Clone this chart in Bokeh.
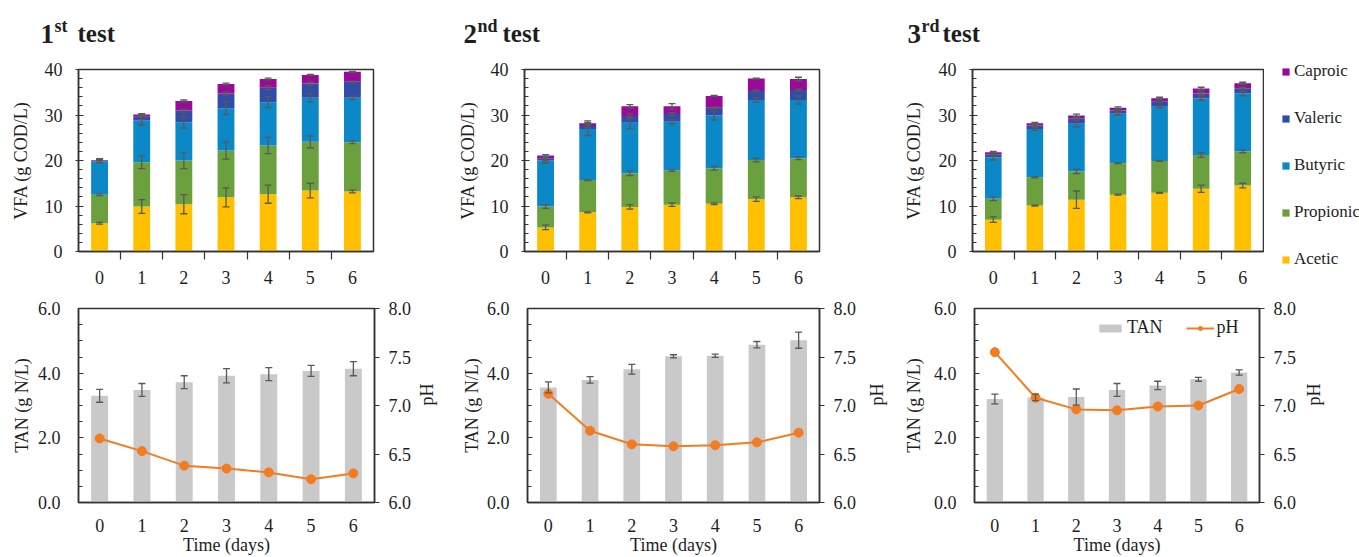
import numpy as np
from bokeh.plotting import figure
from bokeh.models import (ColumnDataSource, Range1d, LinearAxis, FixedTicker, Whisker, TeeHead,
                          Legend, LegendItem, PrintfTickFormatter)
from bokeh.core.properties import value
from bokeh.layouts import row, column
from bokeh.embed import file_html
from bokeh.resources import INLINE

# ---------------- data ----------------
days = [0, 1, 2, 3, 4, 5, 6]
acids = ["Acetic", "Propionic", "Butyric", "Valeric", "Caproic"]

# 1st test, VFA components (g COD/L) and standard deviations
acetic1 = [6.2, 9.9, 10.4, 11.9, 12.6, 13.4, 13.2]
acetic1_err = [0.2, 1.5, 2.1, 2.1, 2.0, 1.6, 0.3]
propionic1 = [6.3, 9.7, 9.6, 10.3, 10.7, 10.7, 10.8]
propionic1_err = [0.2, 1.4, 1.8, 1.9, 1.8, 1.3, 0.3]
butyric1 = [7.3, 9.2, 8.4, 9.3, 9.5, 9.7, 9.8]
butyric1_err = [0.3, 1.0, 1.3, 1.4, 1.2, 0.9, 0.4]
valeric1 = [0.2, 0.8, 2.6, 3.2, 3.2, 3.1, 3.5]
valeric1_err = [0.4, 0.6, 0.3, 0.4, 0.4, 0.3, 0.2]
caproic1 = [0.1, 0.5, 2.1, 2.1, 1.9, 1.9, 2.2]
caproic1_err = [0.1, 0.2, 0.2, 0.2, 0.2, 0.1, 0.1]

# 2nd test
acetic2 = [5.3, 8.6, 9.8, 10.3, 10.5, 11.5, 11.9]
acetic2_err = [0.5, 0.1, 0.5, 0.4, 0.2, 0.5, 0.3]
propionic2 = [4.6, 7.1, 7.4, 7.5, 7.8, 8.6, 8.6]
propionic2_err = [0.4, 0.1, 0.5, 0.2, 0.4, 0.4, 0.3]
butyric2 = [10.1, 11.2, 11.1, 10.7, 11.6, 13.2, 12.8]
butyric2_err = [0.6, 1.4, 1.3, 0.5, 1.0, 0.5, 0.9]
valeric2 = [0.4, 0.7, 1.5, 1.7, 1.7, 2.0, 2.2]
valeric2_err = [0.4, 0.4, 0.4, 0.3, 0.2, 0.2, 0.2]
caproic2 = [0.7, 0.6, 2.1, 1.7, 2.6, 2.7, 2.4]
caproic2_err = [0.2, 0.5, 0.4, 0.6, 0.1, 0.1, 0.4]

# 3rd test
acetic3 = [7.0, 10.1, 11.4, 12.5, 12.9, 13.8, 14.5]
acetic3_err = [0.6, 0.1, 1.9, 0.1, 0.1, 0.8, 0.5]
propionic3 = [4.6, 6.2, 6.2, 6.9, 7.0, 7.4, 7.5]
propionic3_err = [0.4, 0.1, 0.5, 0.1, 0.1, 0.5, 0.3]
butyric3 = [9.1, 10.6, 10.5, 10.9, 11.9, 12.4, 12.7]
butyric3_err = [0.6, 0.3, 0.7, 0.3, 0.2, 0.3, 0.5]
valeric3 = [0.6, 0.8, 1.2, 0.7, 1.2, 1.1, 1.2]
valeric3_err = [0.3, 0.2, 0.2, 0.1, 0.1, 0.3, 0.2]
caproic3 = [0.5, 0.5, 0.6, 0.6, 0.7, 1.1, 1.1]
caproic3_err = [0.2, 0.2, 0.3, 0.2, 0.2, 0.3, 0.2]

# TAN (g N/L) and pH
tan1 = [3.30, 3.48, 3.72, 3.92, 3.97, 4.07, 4.14]
tan1_err = [0.20, 0.20, 0.20, 0.22, 0.20, 0.17, 0.22]
ph1 = [6.66, 6.53, 6.38, 6.35, 6.31, 6.24, 6.30]
tan2 = [3.56, 3.79, 4.12, 4.52, 4.54, 4.88, 5.02]
tan2_err = [0.17, 0.10, 0.15, 0.05, 0.05, 0.10, 0.25]
ph2 = [7.12, 6.74, 6.60, 6.58, 6.59, 6.62, 6.72]
tan3 = [3.20, 3.25, 3.26, 3.48, 3.62, 3.81, 4.02]
tan3_err = [0.15, 0.10, 0.25, 0.20, 0.13, 0.06, 0.08]
ph3 = [7.55, 7.08, 6.96, 6.95, 6.99, 7.00, 7.17]

vfa_ticks = [0, 10, 20, 30, 40]
tan_ticks = [0, 2, 4, 6]
ph_ticks = [6.0, 6.5, 7.0, 7.5, 8.0]

test_nums = ["1", "2", "3"]
test_sups = ["st", "nd", "rd"]

# ---------------- style ----------------
FONT = "Liberation Serif"
TXT = "#1e1e1e"
AX = "#333333"
ERR = "#595959"
COLORS = ["#FFC000", "#6AA03E", "#0A88C8", "#2F4DA8", "#990A99"]
TAN_C = "#C9C9C9"
PH_C = "#F47C20"


def style_axis(ax, size="18px"):
    ax.axis_line_color = AX
    ax.axis_line_width = 1.5
    ax.major_tick_line_color = AX
    ax.minor_tick_line_color = AX
    ax.major_tick_line_width = 1.2
    ax.minor_tick_line_width = 1.2
    ax.major_label_text_font = FONT
    ax.major_label_text_font_size = size
    ax.major_label_text_color = TXT
    ax.axis_label_text_font = FONT
    ax.axis_label_text_font_size = size
    ax.axis_label_text_font_style = "normal"
    ax.axis_label_text_color = TXT


def base_fig(w, h, bl, br, bt, bb, yr):
    p = figure(width=w, height=h, x_range=Range1d(-0.5, 6.5), y_range=Range1d(*yr),
               output_backend="svg", toolbar_location=None, title=None,
               min_border=0, min_border_left=bl, min_border_right=br,
               min_border_top=bt, min_border_bottom=bb)
    p.xgrid.visible = False
    p.ygrid.visible = False
    p.outline_line_color = AX
    p.outline_line_width = 1.5
    p.outline_line_alpha = 1.0
    p.background_fill_color = "white"
    p.border_fill_color = "white"
    return p


def blank_fig(w, h, xr, yr):
    p = figure(width=w, height=h, x_range=Range1d(*xr), y_range=Range1d(*yr),
               output_backend="svg", toolbar_location=None, title=None,
               x_axis_type=None, y_axis_type=None, min_border=0)
    p.outline_line_color = None
    p.xgrid.visible = False
    p.ygrid.visible = False
    return p


def add_whisker(p, x, center, err):
    c = np.array(center, dtype=float)
    e = np.array(err, dtype=float)
    src = ColumnDataSource(dict(x=x, upper=c + e, lower=c - e))
    w = Whisker(source=src, base="x", upper="upper", lower="lower",
                line_color=ERR, line_width=1.3, level="annotation",
                upper_head=TeeHead(size=7, line_color=ERR, line_width=1.3),
                lower_head=TeeHead(size=7, line_color=ERR, line_width=1.3))
    p.add_layout(w)


# ---------------- header strip with the panel titles ----------------
W_TOTAL = 1359
HDR_H = 44
hdr = blank_fig(W_TOTAL, HDR_H, (0, W_TOTAL), (HDR_H, 0))
num_x = [40, 463, 907]
sup_x = [54, 477, 921]
word_x = [77, 502, 942]
hdr.text(x=num_x, y=[33] * 3, text=test_nums, text_font=value(FONT),
         text_font_size=value("27px"), text_font_style="bold", text_color=TXT,
         text_baseline="alphabetic")
hdr.text(x=sup_x, y=[25] * 3, text=test_sups, text_font=value(FONT),
         text_font_size=value("18px"), text_font_style="bold", text_color=TXT,
         text_baseline="alphabetic")
hdr.text(x=word_x, y=[33] * 3, text=["test"] * 3, text_font=value(FONT),
         text_font_size=value("25px"), text_font_style="bold", text_color=TXT,
         text_baseline="alphabetic")

TOP_H = 288 - HDR_H
TOP_BT = 69 - HDR_H


def vfa_panel(w, bl, br, comps, errs, lab_standoff):
    p = base_fig(w, TOP_H, bl, br, TOP_BT, 37, (0, 40))
    bottom = np.zeros(len(days))
    tops = []
    for vals, col in zip(comps, COLORS):
        top = bottom + np.array(vals)
        p.vbar(x=days, bottom=bottom, top=top, width=0.4, fill_color=col, line_color=None)
        tops.append(top)
        bottom = top
    for top, err in zip(tops, errs):
        add_whisker(p, days, top, err)

    xa = p.xaxis[0]
    xa.ticker = FixedTicker(ticks=days, minor_ticks=[d + 0.5 for d in days[:-1]])
    style_axis(xa)
    xa.major_tick_in = 0
    xa.major_tick_out = 0
    xa.minor_tick_in = 0
    xa.minor_tick_out = 8
    xa.major_label_standoff = 11

    ya = p.yaxis[0]
    ya.ticker = FixedTicker(ticks=vfa_ticks, minor_ticks=list(range(2, 40, 2)))
    style_axis(ya)
    ya.major_tick_in = 5
    ya.major_tick_out = 3
    ya.minor_tick_in = 4
    ya.minor_tick_out = 0
    ya.major_label_standoff = 13
    ya.axis_label = "VFA (g COD/L)"
    ya.axis_label_standoff = lab_standoff
    return p


def vfa_legend(w, h):
    # legend-only panel; the swatch renderers sit outside the visible range
    p = blank_fig(w, h, (0, 1), (0, 1))
    rends = [p.vbar(x=[5], bottom=[0], top=[1], width=0.4, fill_color=c, line_color=None)
             for c in COLORS]
    items = [LegendItem(label=n, renderers=[r]) for n, r in zip(acids, rends)][::-1]
    lg = Legend(items=items, location="top_left", orientation="vertical",
                glyph_width=9, glyph_height=9, label_height=20, spacing=27,
                padding=0, margin=0, label_standoff=4,
                border_line_color=None, background_fill_alpha=0,
                label_text_font=FONT, label_text_font_size="17px",
                label_text_color=TXT)
    lg.location = (16, 0)
    lg.location = "top_left"
    lg.margin = 17
    p.add_layout(lg)
    return p


def tan_panel(w, bl, br, tan, tan_err, ph, tan_standoff, ph_standoff, legend=False):
    p = base_fig(w, 557 - 288, bl, br, 20, 55, (0, 6))
    p.extra_y_ranges = {"ph": Range1d(6, 8)}
    rb = p.vbar(x=days, top=tan, width=0.4, fill_color=TAN_C, line_color=None)
    add_whisker(p, days, tan, tan_err)
    rl = p.line(days, ph, y_range_name="ph", line_color=PH_C, line_width=2)
    rs = p.scatter(days, ph, y_range_name="ph", size=9, fill_color=PH_C, line_color=PH_C)

    xa = p.xaxis[0]
    xa.ticker = FixedTicker(ticks=days)
    style_axis(xa)
    xa.major_tick_in = 0
    xa.major_tick_out = 0
    xa.minor_tick_in = 0
    xa.minor_tick_out = 0
    xa.major_label_standoff = 16
    xa.axis_label = "Time (days)"
    xa.axis_label_standoff = 0

    ya = p.yaxis[0]
    ya.ticker = FixedTicker(ticks=tan_ticks, minor_ticks=[i * 0.5 for i in range(1, 12)])
    ya.formatter = PrintfTickFormatter(format="%.1f")
    style_axis(ya)
    ya.major_tick_in = 5
    ya.major_tick_out = 0
    ya.minor_tick_in = 4
    ya.minor_tick_out = 0
    ya.major_label_standoff = 18
    ya.axis_label = "TAN (g N/L)"
    ya.axis_label_standoff = tan_standoff

    ra = LinearAxis(y_range_name="ph", ticker=FixedTicker(ticks=ph_ticks),
                    formatter=PrintfTickFormatter(format="%.1f"))
    style_axis(ra)
    ra.major_tick_in = 0
    ra.major_tick_out = 5
    ra.minor_tick_in = 0
    ra.minor_tick_out = 0
    ra.major_label_standoff = 9
    ra.axis_label = "pH"
    ra.axis_label_standoff = ph_standoff
    try:
        ra.axis_label_orientation = np.pi / 2
    except Exception:
        pass
    p.add_layout(ra, "right")

    if legend:
        lg = Legend(items=[LegendItem(label="TAN", renderers=[rb]),
                           LegendItem(label="pH", renderers=[rl, rs])],
                    location=(122, 164), orientation="horizontal",
                    glyph_width=28, glyph_height=10, label_height=20, spacing=23,
                    padding=0, margin=0, label_standoff=3,
                    border_line_color=None, background_fill_alpha=0,
                    label_text_font=FONT, label_text_font_size="18px",
                    label_text_color=TXT)
        p.add_layout(lg)
    return p


f1 = vfa_panel(450, 78, 77,
               [acetic1, propionic1, butyric1, valeric1, caproic1],
               [acetic1_err, propionic1_err, butyric1_err, valeric1_err, caproic1_err], 11)
f2 = vfa_panel(450, 74, 81,
               [acetic2, propionic2, butyric2, valeric2, caproic2],
               [acetic2_err, propionic2_err, butyric2_err, valeric2_err, caproic2_err], 10)
f3 = vfa_panel(364, 71, 1,
               [acetic3, propionic3, butyric3, valeric3, caproic3],
               [acetic3_err, propionic3_err, butyric3_err, valeric3_err, caproic3_err], 12)
fl = vfa_legend(W_TOTAL - 450 - 450 - 364, TOP_H)

f4 = tan_panel(450, 78, 74, tan1, tan1_err, ph1, 3, 13)
f5 = tan_panel(450, 77, 77, tan2, tan2_err, ph2, 2, 18)
f6 = tan_panel(459, 70, 100, tan3, tan3_err, ph3, 7, 15, legend=True)

# header and legend panels are wrapped in their own columns so their frames are not aligned
layout = column(column(hdr), row(f1, f2, f3, column(fl)), row(f4, f5, f6))
open("out.html", "w").write(file_html(layout, INLINE))
